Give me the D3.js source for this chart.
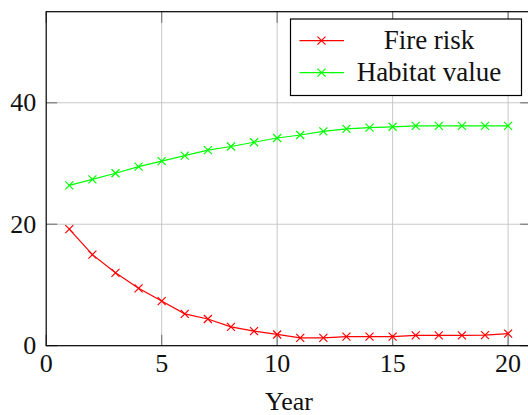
<!DOCTYPE html>
<html>
<head>
<meta charset="utf-8">
<script src="https://cdn.jsdelivr.net/npm/d3@7"></script>
<style>
  body { margin: 0; background: #fff; }
  text { font-family: "Liberation Serif", "DejaVu Serif", serif; fill: #111; }
</style>
</head>
<body>
<div id="chart"></div>
<script>
// data
const years = d3.range(1, 21);
const fireRisk = [19.2, 15.0, 12.0, 9.45, 7.35, 5.25, 4.4, 3.1, 2.4, 1.85,
                  1.3, 1.3, 1.5, 1.5, 1.5, 1.7, 1.7, 1.7, 1.75, 2.0];
const habitatValue = [26.4, 27.4, 28.4, 29.5, 30.4, 31.3, 32.2, 32.8, 33.5, 34.2,
                      34.7, 35.3, 35.7, 35.9, 36.05, 36.2, 36.2, 36.2, 36.2, 36.2];
const xTicks = [0, 5, 10, 15, 20];
const yTicks = [0, 20, 40];
const seriesNames = ["Fire risk", "Habitat value"];
const seriesColors = ["#ff0000", "#00ff00"];

const width = 528;
const height = 415;
const margin = { top: 11.7, left: 46.2 };
const plotW = 485;   // right frame sits just past the window edge
const plotH = 334;

const svg = d3.select("#chart")
  .append("svg")
  .attr("width", width)
  .attr("height", height);

const x = d3.scaleLinear()
  .domain([0, 21])
  .range([margin.left, margin.left + plotW]);

const y = d3.scaleLinear()
  .domain([0, 55])
  .range([margin.top + plotH, margin.top]);

// grid
const grid = svg.append("g").attr("stroke", "#c8c8c8").attr("stroke-width", 1);
grid.selectAll(".gx")
  .data(xTicks.filter(d => d > 0))
  .join("line")
  .attr("x1", d => x(d)).attr("x2", d => x(d))
  .attr("y1", y(0)).attr("y2", y(55));
grid.selectAll(".gy")
  .data(yTicks.filter(d => d > 0))
  .join("line")
  .attr("y1", d => y(d)).attr("y2", d => y(d))
  .attr("x1", x(0)).attr("x2", x(21));

// inner tick marks (bottom/top and left/right)
const tl = 11;
const ticks = svg.append("g").attr("stroke", "#7a7a7a").attr("stroke-width", 1.2);
xTicks.forEach(d => {
  ticks.append("line").attr("x1", x(d)).attr("x2", x(d)).attr("y1", y(0)).attr("y2", y(0) - tl);
  ticks.append("line").attr("x1", x(d)).attr("x2", x(d)).attr("y1", y(55)).attr("y2", y(55) + tl);
});
yTicks.forEach(d => {
  ticks.append("line").attr("x1", x(0)).attr("x2", x(0) + tl).attr("y1", y(d)).attr("y2", y(d));
  ticks.append("line").attr("x1", x(21)).attr("x2", x(21) - tl).attr("y1", y(d)).attr("y2", y(d));
});

// frame
svg.append("rect")
  .attr("x", x(0)).attr("y", y(55))
  .attr("width", x(21) - x(0)).attr("height", y(0) - y(55))
  .attr("fill", "none")
  .attr("stroke", "#000")
  .attr("stroke-width", 1.2);

// tick labels
svg.append("g")
  .selectAll("text")
  .data(xTicks)
  .join("text")
  .attr("x", d => x(d))
  .attr("y", 371.5)
  .attr("text-anchor", "middle")
  .attr("font-size", "26px")
  .text(d => d);

svg.append("g")
  .selectAll("text")
  .data(yTicks)
  .join("text")
  .attr("x", x(0) - 10)
  .attr("y", d => y(d) + 8.5)
  .attr("text-anchor", "end")
  .attr("font-size", "26px")
  .text(d => d);

svg.append("text")
  .attr("x", 289)
  .attr("y", 410)
  .attr("text-anchor", "middle")
  .attr("font-size", "26px")
  .text("Year");

// series
function xMark(g, cx, cy, color) {
  const s = 4;
  g.append("path")
    .attr("d", `M${cx - s},${cy - s}L${cx + s},${cy + s}M${cx - s},${cy + s}L${cx + s},${cy - s}`)
    .attr("stroke", color)
    .attr("stroke-width", 1.2)
    .attr("fill", "none");
}

const line = d3.line()
  .x((d, i) => x(years[i]))
  .y(d => y(d));

[fireRisk, habitatValue].forEach((vals, k) => {
  const g = svg.append("g");
  g.append("path")
    .attr("d", line(vals))
    .attr("fill", "none")
    .attr("stroke", seriesColors[k])
    .attr("stroke-width", 1.2);
  vals.forEach((v, i) => xMark(g, x(years[i]), y(v), seriesColors[k]));
});

// legend
const legend = svg.append("g");
legend.append("rect")
  .attr("x", 290.5).attr("y", 19)
  .attr("width", 231).attr("height", 76.5)
  .attr("fill", "#fff")
  .attr("stroke", "#000")
  .attr("stroke-width", 1.2);

seriesNames.forEach((name, k) => {
  const ly = 40.7 + k * 32;
  legend.append("line")
    .attr("x1", 299.5).attr("x2", 344)
    .attr("y1", ly).attr("y2", ly)
    .attr("stroke", seriesColors[k])
    .attr("stroke-width", 1.2);
  xMark(legend, 321.5, ly, seriesColors[k]);
  legend.append("text")
    .attr("x", 429)
    .attr("y", ly + 8.5)
    .attr("text-anchor", "middle")
    .attr("font-size", "27px")
    .text(name);
});
</script>
</body>
</html>
